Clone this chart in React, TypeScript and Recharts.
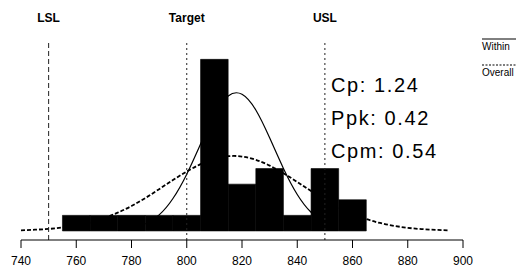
import { ComposedChart, Bar, Line, XAxis, YAxis, ReferenceLine } from "recharts";

// histogram bins (width 10) and their counts
const binCenters = [760, 770, 780, 790, 800, 810, 820, 830, 840, 850, 860];
const binCounts = [1, 1, 1, 1, 1, 11, 3, 4, 1, 4, 2];

// overall fit (dashed)
const overallX = [
  740, 745, 750, 755, 760, 765, 770, 775, 780, 785, 790, 795, 800, 805, 810, 815,
  820, 825, 830, 835, 840, 845, 850, 855, 860, 865, 870, 875, 880, 885, 890, 895,
];
const overallFit = [
  0.04, 0.08, 0.13, 0.22, 0.36, 0.55, 0.82, 1.17, 1.6, 2.11, 2.68, 3.26, 3.81, 4.28, 4.61, 4.79,
  4.77, 4.56, 4.19, 3.7, 3.14, 2.56, 2.01, 1.51, 1.09, 0.76, 0.51, 0.33, 0.2, 0.12, 0.07, 0.04,
];

// within fit (solid)
const withinX = [785, 790, 795, 800, 805, 810, 815, 820, 825, 830, 835, 840, 845, 850];
const withinFit = [0.44, 1.03, 2.08, 3.64, 5.57, 7.43, 8.65, 8.76, 7.75, 5.97, 4.01, 2.34, 1.2, 0.53];

const xTicks = [740, 760, 780, 800, 820, 840, 860, 880, 900];

const specs = [
  { name: "LSL", value: 750, dash: "5 3" },
  { name: "Target", value: 800, dash: "2 3" },
  { name: "USL", value: 850, dash: "2 3" },
];

const stats = ["Cp: 1.24", "Ppk: 0.42", "Cpm: 0.54"];

const histData = binCenters.map((x, i) => ({ x, count: binCounts[i] }));
const overallData = overallX.map((x, i) => ({ x, overall: overallFit[i] }));
const withinData = withinX.map((x, i) => ({ x, within: withinFit[i] }));

const font = "'Liberation Sans', Arial, sans-serif";

export default function App() {
  return (
    <div
      style={{
        position: "absolute",
        left: 0,
        top: 0,
        width: 516,
        height: 270,
        overflow: "hidden",
        background: "#fff",
        fontFamily: font,
      }}
    >
      <ComposedChart width={516} height={270} data={histData} margin={{ top: 40, right: 53, left: 21, bottom: 0 }}>
        <XAxis
          dataKey="x"
          type="number"
          domain={[740, 900]}
          ticks={xTicks}
          allowDataOverflow
          height={30}
          tickSize={8}
          tickMargin={8}
          stroke="#000"
          tick={{ fill: "#000", fontSize: 12, fontFamily: font }}
        />
        <XAxis xAxisId="fit" dataKey="x" type="number" domain={[740, 900]} allowDataOverflow hide />
        <YAxis hide domain={[-0.58, 12.24]} allowDataOverflow />
        <Line
          xAxisId="fit"
          data={overallData}
          dataKey="overall"
          type="natural"
          stroke="#000"
          strokeWidth={1.8}
          strokeDasharray="4 2"
          dot={false}
          isAnimationActive={false}
        />
        <Line
          xAxisId="fit"
          data={withinData}
          dataKey="within"
          type="natural"
          stroke="#000"
          strokeWidth={1.2}
          dot={false}
          isAnimationActive={false}
        />
        <Bar dataKey="count" fill="#000" stroke="#000" strokeWidth={0.6} barSize={27.6} isAnimationActive={false} />
        {specs.map((s) => (
          <ReferenceLine
            key={s.name}
            x={s.value}
            stroke="#222"
            strokeWidth={1}
            strokeDasharray={s.dash}
            label={{
              value: s.name,
              position: "top",
              offset: 18,
              fill: "#000",
              fontSize: 12,
              fontWeight: "bold",
              fontFamily: font,
            }}
          />
        ))}
      </ComposedChart>
      <svg
        width={516}
        height={270}
        style={{ position: "absolute", left: 0, top: 0, pointerEvents: "none" }}
      >
        {stats.map((t, i) => (
          <text
            key={t}
            x={331}
            y={92 + i * 33}
            fontSize={20}
            letterSpacing={1.6}
            fontFamily={font}
            fill="#000"
          >
            {t}
          </text>
        ))}
        <line x1={482} x2={516} y1={39} y2={39} stroke="#000" strokeWidth={1} />
        <text x={482} y={50} fontSize={10} fontFamily={font} fill="#000">
          Within
        </text>
        <line x1={482} x2={516} y1={65} y2={65} stroke="#000" strokeWidth={1.2} strokeDasharray="2 1.5" />
        <text x={482} y={76} fontSize={10} fontFamily={font} fill="#000">
          Overall
        </text>
      </svg>
    </div>
  );
}
